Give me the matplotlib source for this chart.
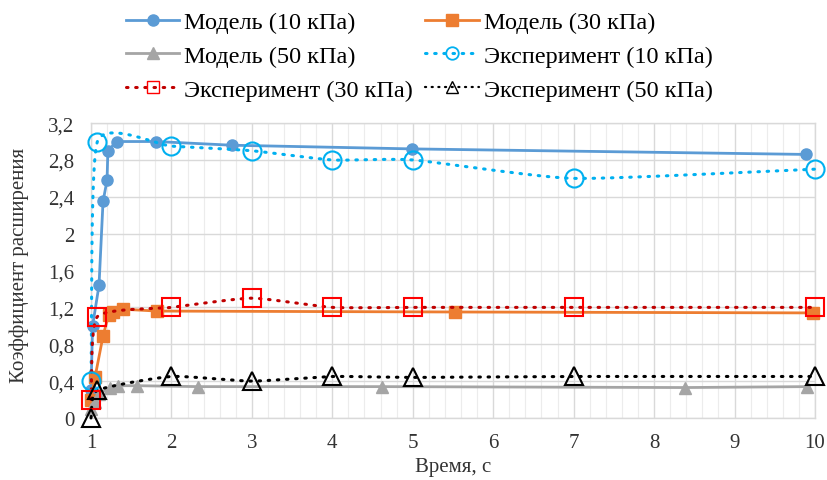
import numpy as np
import matplotlib
matplotlib.use("Agg")
import matplotlib.pyplot as plt
from matplotlib.ticker import MultipleLocator, FuncFormatter
from matplotlib.lines import Line2D

plt.rcParams['font.family'] = ['Liberation Serif', 'DejaVu Serif']

# ---- data ----
m10_x = [1.0, 1.02, 1.10, 1.15, 1.20, 1.21, 1.32, 1.81, 2.75, 4.99, 9.89]
m10_y = [0.30, 1.00, 1.44, 2.35, 2.58, 2.90, 3.00, 3.00, 2.96, 2.92, 2.86]

m30_x = [1.0, 1.05, 1.15, 1.22, 1.27, 1.40, 1.82, 5.53, 9.97]
m30_y = [0.20, 0.44, 0.89, 1.12, 1.15, 1.18, 1.16, 1.15, 1.14]

m50_x = [1.0, 1.05, 1.10, 1.24, 1.33, 1.57, 2.33, 4.62, 8.38, 9.90]
m50_y = [0.10, 0.17, 0.26, 0.33, 0.35, 0.35, 0.34, 0.34, 0.33, 0.34]

e10_x = [1.0, 1.08, 2.0, 3.0, 4.0, 5.0, 7.0, 10.0]
e10_y = [0.40, 3.00, 2.95, 2.90, 2.80, 2.80, 2.60, 2.70]

e30_x = [1.0, 1.08, 2.0, 3.0, 4.0, 5.0, 7.0, 10.0]
e30_y = [0.20, 1.10, 1.20, 1.30, 1.20, 1.20, 1.20, 1.20]

e50_x = [1.0, 1.08, 2.0, 3.0, 4.0, 5.0, 7.0, 10.0]
e50_y = [0.00, 0.30, 0.45, 0.40, 0.45, 0.44, 0.45, 0.45]

labels = ["Модель (10 кПа)", "Модель (30 кПа)", "Модель (50 кПа)",
          "Эксперимент (10 кПа)", "Эксперимент (30 кПа)", "Эксперимент (50 кПа)"]
yticks = [0, 0.4, 0.8, 1.2, 1.6, 2.0, 2.4, 2.8, 3.2]


def smooth(xs, ys, n=40, k=0.55):
    """Smoothed line rendering (cardinal spline through the data points)."""
    p = np.column_stack([xs, ys]).astype(float)
    m = np.zeros_like(p)
    m[1:-1] = (p[2:] - p[:-2]) / 2 * k
    m[0] = (p[1] - p[0]) * k
    m[-1] = (p[-1] - p[-2]) * k
    t = np.linspace(0, 1, n)[:, None]
    h00 = 2 * t ** 3 - 3 * t ** 2 + 1
    h10 = t ** 3 - 2 * t ** 2 + t
    h01 = -2 * t ** 3 + 3 * t ** 2
    h11 = t ** 3 - t ** 2
    out = []
    for i in range(len(p) - 1):
        seg = h00 * p[i] + h10 * m[i] + h01 * p[i + 1] + h11 * m[i + 1]
        out.append(seg if i == 0 else seg[1:])
    s = np.vstack(out)
    return s[:, 0], s[:, 1]


fig = plt.figure(figsize=(8.27, 4.81), dpi=100)
ax = fig.add_axes([0.110, 0.129, 0.8755, 0.613])

c_m10, c_m30, c_m50 = '#5B9BD5', '#ED7D31', '#A5A5A5'
c_e10, c_e30, c_e50 = '#00B0F0', '#C00000', '#000000'

h1, = ax.plot(m10_x, m10_y, '-', color=c_m10, lw=2, marker='o', ms=8, zorder=3, clip_on=False)
h2, = ax.plot(m30_x, m30_y, '-', color=c_m30, lw=2, marker='s', ms=8, zorder=3, clip_on=False)
h3, = ax.plot(m50_x, m50_y, '-', color=c_m50, lw=2, marker='^', ms=8, zorder=3, clip_on=False)

dot = (0, (0.5, 2.5))
for xs, ys, col, mk, mcol in [(e10_x, e10_y, c_e10, 'o', c_e10),
                              (e30_x, e30_y, c_e30, 's', '#FF0000'),
                              (e50_x, e50_y, c_e50, '^', '#000000')]:
    sx, sy = smooth(xs, ys)
    ax.plot(sx, sy, linestyle=dot, color=col, lw=2.2, dash_capstyle='round', zorder=4, clip_on=False)
    ax.plot(xs, ys, linestyle='none', marker=mk, ms=13, mfc='none', mec=mcol, mew=1.5,
            zorder=5, clip_on=False)

# legend proxies
h4 = Line2D([], [], linestyle=dot, color=c_e10, lw=2.2, dash_capstyle='round', marker='o', ms=9,
            mfc='none', mec=c_e10, mew=1.3)
h5 = Line2D([], [], linestyle=dot, color=c_e30, lw=2.2, dash_capstyle='round', marker='s', ms=9,
            mfc='none', mec='#FF0000', mew=1.0)
h6 = Line2D([], [], linestyle=dot, color=c_e50, lw=1.6, dash_capstyle='round', marker='^', ms=9,
            mfc='none', mec='#000000', mew=1.0)

hs = [h1, h2, h3, h4, h5, h6]
order = [0, 2, 4, 1, 3, 5]  # row-wise reading order in a 2-column legend
fig.legend([hs[i] for i in order], [labels[i] for i in order], ncol=2, loc='upper left',
           bbox_to_anchor=(126 / 827, 1 - 12 / 481), frameon=False, fontsize=17.5,
           handlelength=2.2, columnspacing=0.5, labelspacing=0.49, handletextpad=0.2,
           borderpad=0, borderaxespad=0)

ax.set_xlim(1, 10)
ax.set_ylim(0, 3.2)
ax.xaxis.set_major_locator(MultipleLocator(1))
ax.xaxis.set_minor_locator(MultipleLocator(0.2))
ax.set_yticks(yticks)
ax.yaxis.set_major_formatter(FuncFormatter(lambda v, p: ('%g' % round(v, 1)).replace('.', ',')))
ax.grid(True, which='major', color='#D9D9D9', lw=1)
ax.grid(True, which='minor', axis='x', color='#ECECEC', lw=0.8)
ax.set_axisbelow(True)
for s in ax.spines.values():
    s.set_color('#D9D9D9')
    s.set_linewidth(1)
ax.tick_params(which='both', length=0, labelsize=15, colors='#333333')
ax.tick_params(axis='x', pad=11)
ax.tick_params(axis='y', pad=12)

ax.set_xlabel('Время, с', fontsize=15, color='#333333')
ax.set_ylabel('Коэффициент расширения', fontsize=15, color='#333333')
ax.xaxis.set_label_coords(0.5, -0.133)
ax.yaxis.set_label_coords(-0.086, 0.52)

fig.savefig('out.png', dpi=100)
